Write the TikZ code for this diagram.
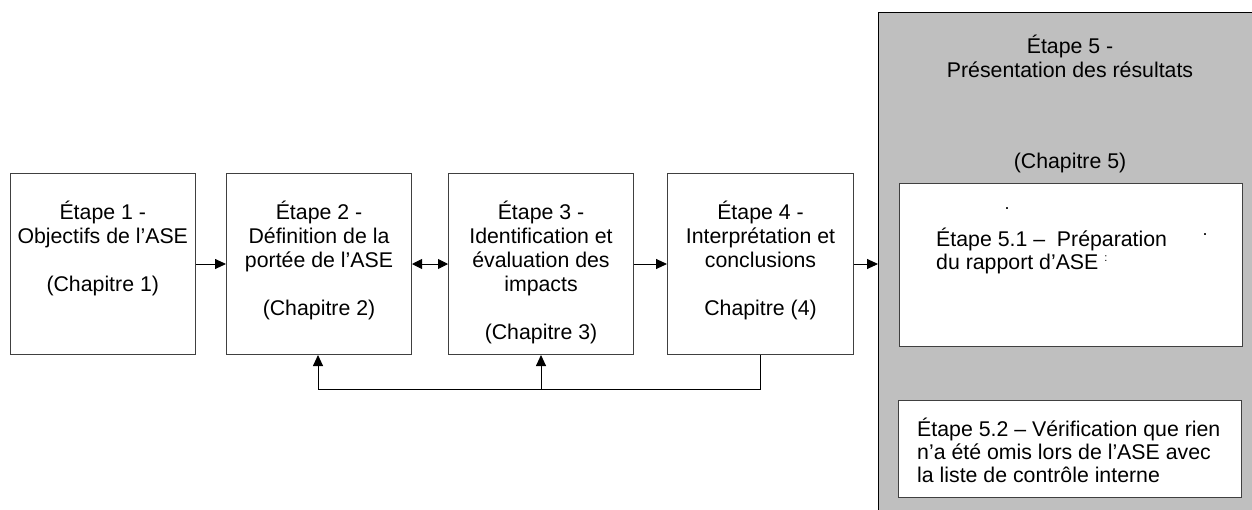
\documentclass[tikz,border=0pt]{standalone}
\usepackage{fontspec}
\setmainfont{Liberation Sans}
\usetikzlibrary{arrows.meta}
\begin{document}
\begin{tikzpicture}[x=1pt,y=-1pt,
  box/.style={draw=black!75,line width=1pt,fill=white,rectangle,inner sep=0pt,anchor=north west},
  txt/.style={inner sep=0pt,align=center,anchor=north,font=\fontsize{21.3}{24}\selectfont},
  ltxt/.style={inner sep=0pt,align=left,anchor=north west,font=\fontsize{21.3}{23}\selectfont},
  dot/.style={inner sep=0pt,font=\fontsize{18}{18}\selectfont},
  conn/.style={draw=black,line width=0.9pt},
  arr/.style={conn,-{Triangle[length=11pt,width=10pt]}},
  darr/.style={conn,{Triangle[length=10pt,width=10pt]}-{Triangle[length=10pt,width=10pt]}}]
\useasboundingbox (0,0) rectangle (1252,509);
\begin{scope}
\clip (0,0) rectangle (1252,509);
% big grey box
\node[draw=black,line width=1pt,fill=black!25,rectangle,inner sep=0pt,anchor=north west,
  minimum width=386pt,minimum height=510pt] (g5) at (878,12) {};
\end{scope}
\node[txt] (t5) at (1070,35) {Étape 5 -\\Présentation des résultats};
\node[inner sep=0pt,anchor=base,font=\fontsize{21.3}{24}\selectfont] (c5) at (1070,168.5) {(Chapitre 5)};

% steps 1-4
\node[box,minimum width=185.5pt,minimum height=181pt] (b1) at (9.5,173) {};
\node[box,minimum width=185pt,minimum height=181pt] (b2) at (226,173) {};
\node[box,minimum width=185pt,minimum height=181pt] (b3) at (448,173) {};
\node[box,minimum width=186pt,minimum height=181pt] (b4) at (667,173) {};

\node[txt] (t1) at ([yshift=-28pt]b1.north) {Étape 1 -\\Objectifs de l’ASE\\[24pt](Chapitre 1)};
\node[txt] (t2) at ([yshift=-28pt]b2.north) {Étape 2 -\\Définition de la\\portée de l’ASE\\[24pt](Chapitre 2)};
\node[txt] (t3) at ([yshift=-28pt]b3.north) {Étape 3 -\\Identification et\\évaluation des\\impacts\\[24pt](Chapitre 3)};
\node[txt] (t4) at ([yshift=-28pt]b4.north) {Étape 4 -\\Interprétation et\\conclusions\\[24pt]Chapitre (4)};

% sub-steps
\node[box,minimum width=343pt,minimum height=163pt] (b51) at (899,183) {};
\node[ltxt] (t51) at (936,227.7) {Étape 5.1 –\ \ Préparation\\du rapport d’ASE};
\node[dot] (d1) at (1007,209) {.};
\node[dot] (d2) at (1205,235) {.};
\node[dot,font=\fontsize{11}{11}\selectfont] (d3) at (1106,259) {:};

\node[box,minimum width=343pt,minimum height=97pt] (b52) at (898,400) {};
\node[ltxt] (t52) at (917,417.7) {Étape 5.2 – Vérification que rien\\n’a été omis lors de l’ASE avec\\la liste de contrôle interne};

% connectors
\coordinate (y) at (0,264);
\draw[arr] (b1.east |- y) -- (b2.west |- y);
\draw[darr] (b2.east |- y) -- (b3.west |- y);
\draw[arr] (b3.east |- y) -- (b4.west |- y);
\draw[arr] (b4.east |- y) -- (g5.west |- y);

\coordinate (f4) at (760,354);
\coordinate (fr) at (760,389);
\coordinate (f2) at (318,389);
\coordinate (f3) at (541,389);
\draw[conn] (b4.south -| f4) -- (fr) -- (f2);
\draw[arr] (f2) -- (b2.south -| f2);
\draw[arr] (f3) -- (b3.south -| f3);
\end{tikzpicture}
\end{document}
